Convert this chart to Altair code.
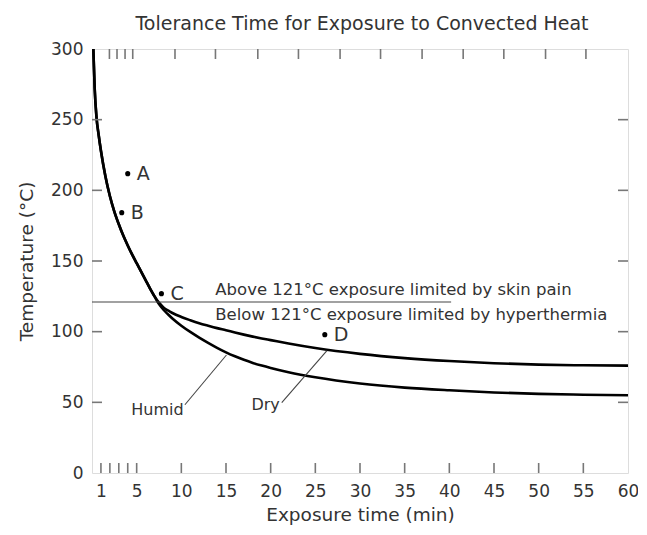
import altair as alt
import pandas as pd

# ---- data ----
chart_title = "Tolerance Time for Exposure to Convected Heat"

common_x = [0.15, 0.3, 0.5, 0.75, 1.0, 1.5, 2.0, 2.5, 3.0, 3.5, 4.0, 4.5, 5.0, 5.5, 6.0, 6.5, 7.0]
common_y = [300, 272, 252, 239, 228, 210, 196, 185, 176, 168, 161, 154.5, 148.5, 142.5, 136.5, 130.5, 125]

tail_x = [7.5, 8, 8.5, 9, 10, 11, 12, 13, 14, 15, 16, 17, 18, 19, 20, 22, 25, 30, 35, 40, 45, 50, 55, 60]
dry_y = [120.5, 117.2, 115, 113.2, 110.4, 108.1, 106, 104.2, 102.5, 101, 99.4, 97.9, 96.5, 95.2,
         94, 91.6, 88.4, 84.3, 81.3, 79.2, 77.7, 76.7, 76.2, 76]
humid_y = [119.5, 115.5, 112.3, 109.3, 104.2, 99.8, 95.8, 92.1, 88.6, 85.4, 82.6, 80.1, 77.9, 76.0,
           74.3, 71.3, 67.7, 63.3, 60.4, 58.5, 57, 56, 55.4, 55]

pt_labels = ["A", "B", "C", "D"]
pt_x = [4.0, 3.33, 7.77, 26.06]
pt_y = [211.8, 184.2, 126.9, 97.9]

limit_temp = 121
limit_x_end = 40.2
note_text = ["Above 121°C exposure limited by skin pain",
             "Below 121°C exposure limited by hyperthermia"]
note_x = [13.8, 13.8]
note_y = [126.2, 108.4]

curve_names = ["Humid", "Dry"]
curve_lab_x = [4.4, 17.85]
curve_lab_y = [41.3, 44.6]
lead_x = [10.4, 21.24]
lead_y = [48.3, 49.8]
lead_x2 = [15.05, 26.3]
lead_y2 = [83.5, 86.6]

x_label_values = [1, 5, 10, 15, 20, 25, 30, 35, 40, 45, 50, 55, 60]
bottom_ticks = [1, 2, 3, 4, 5, 10, 15, 20, 25, 30, 35, 40, 45, 50, 55]
top_ticks = [1.95, 2.80, 3.70, 4.56, 9.29, 13.82, 18.56, 23.11, 27.77,
             32.30, 36.95, 41.55, 46.10, 50.77, 55.29]
y_label_values = [0, 50, 100, 150, 200, 250, 300]
y_ticks = [50, 100, 150, 200, 250]

# ---- tables ----
rows = []
for name, ys in (("Dry", dry_y), ("Humid", humid_y)):
    for xv, yv in zip(common_x + tail_x, common_y + ys):
        rows.append({"series": name, "x": xv, "y": yv})
curves = pd.DataFrame(rows)

W, H = 536, 424
FONT = "DejaVu Sans"
TXT = "#333333"
AX = "#777777"

xs = alt.Scale(domain=[0, 60], nice=False, zero=False)
ys_ = alt.Scale(domain=[0, 300], nice=False, zero=False)

x_axis = alt.Axis(values=x_label_values, grid=False, ticks=False, tickSize=0, domain=False,
                  labelFont=FONT, labelFontSize=17, labelColor=TXT, labelPadding=10,
                  labelFlush=False, labelOverlap=False, title="Exposure time (min)", titleFont=FONT,
                  titleFontSize=18.5, titleFontWeight="normal", titleColor=TXT, titlePadding=6)
y_axis = alt.Axis(values=y_label_values, grid=False, ticks=False, tickSize=0, domain=False,
                  labelFont=FONT, labelFontSize=17, labelColor=TXT, labelPadding=9,
                  labelFlush=False, labelOverlap=False, title="Temperature (°C)", titleFont=FONT,
                  titleFontSize=18.5, titleFontWeight="normal", titleColor=TXT, titlePadding=14)


def X(field="x"):
    return alt.X(f"{field}:Q", scale=xs, axis=x_axis)


def Y(field="y"):
    return alt.Y(f"{field}:Q", scale=ys_, axis=y_axis)


lines = alt.Chart(curves).mark_line(color="black", strokeWidth=2.6, interpolate="monotone").encode(
    x=X(), y=Y(), detail="series:N", order="x:Q")

hline = alt.Chart(pd.DataFrame({"x": [0], "x2": [limit_x_end], "y": [limit_temp]})).mark_rule(
    color="#444444", strokeWidth=1.2).encode(x=X(), x2="x2:Q", y=Y())

leaders = alt.Chart(pd.DataFrame({"x": lead_x, "y": lead_y, "x2": lead_x2, "y2": lead_y2})).mark_rule(
    color="#444444", strokeWidth=1.1).encode(x=X(), y=Y(), x2="x2:Q", y2="y2:Q")

pts_df = pd.DataFrame({"label": pt_labels, "x": pt_x, "y": pt_y})
points = alt.Chart(pts_df).mark_circle(color="black", opacity=1, size=26).encode(x=X(), y=Y())
pt_text = alt.Chart(pts_df).mark_text(align="left", baseline="middle", dx=9, font=FONT,
                                      fontSize=19, color=TXT).encode(x=X(), y=Y(), text="label:N")

notes = alt.Chart(pd.DataFrame({"t": note_text, "x": note_x, "y": note_y})).mark_text(
    align="left", baseline="alphabetic", font=FONT, fontSize=16.5, color=TXT).encode(
    x=X(), y=Y(), text="t:N")

curve_text = alt.Chart(pd.DataFrame({"t": curve_names, "x": curve_lab_x, "y": curve_lab_y})).mark_text(
    align="left", baseline="alphabetic", font=FONT, fontSize=16, color=TXT).encode(
    x=X(), y=Y(), text="t:N")

title_text = alt.Chart(pd.DataFrame({"t": [chart_title]})).mark_text(
    align="center", baseline="alphabetic", font=FONT, fontSize=19, color=TXT).encode(
    x=alt.value(W / 2 + 2), y=alt.value(-19), text="t:N")

tick_style = dict(color=AX, strokeWidth=1.6)
bt = alt.Chart(pd.DataFrame({"x": bottom_ticks})).mark_rule(**tick_style).encode(
    x=X(), y=alt.value(H), y2=alt.value(H - 10))
tt = alt.Chart(pd.DataFrame({"x": top_ticks})).mark_rule(**tick_style).encode(
    x=X(), y=alt.value(0), y2=alt.value(10))
lt = alt.Chart(pd.DataFrame({"y": y_ticks})).mark_rule(**tick_style).encode(
    y=Y(), x=alt.value(0), x2=alt.value(10))
rt = alt.Chart(pd.DataFrame({"y": y_ticks})).mark_rule(**tick_style).encode(
    y=Y(), x=alt.value(W - 10), x2=alt.value(W))

chart = alt.layer(lines, hline, leaders, points, pt_text, notes, curve_text, title_text,
                  bt, tt, lt, rt).properties(
    width=W, height=H,
    autosize=alt.AutoSizeParams(type="none"),
    padding={"left": 84, "top": 41, "right": 10, "bottom": 60},
).configure_view(stroke=AX, strokeWidth=1.6).configure(background="white")

chart.save("out.html", embed_options={"renderer": "svg", "actions": False})
